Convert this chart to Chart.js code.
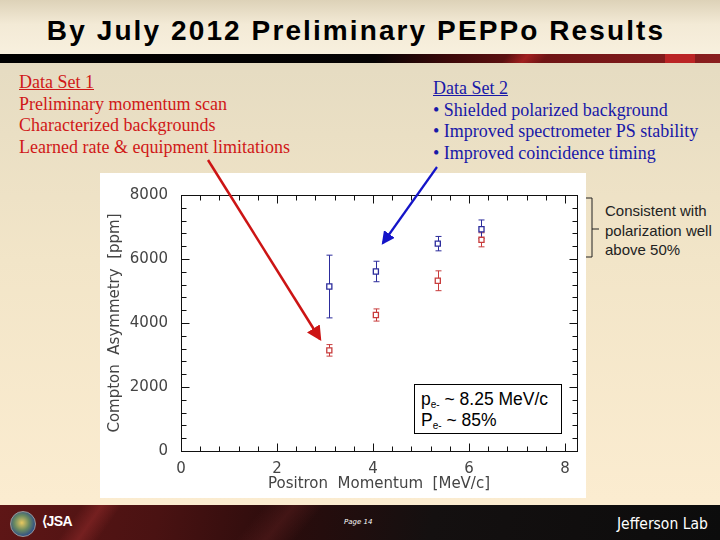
<!DOCTYPE html>
<html>
<head>
<meta charset="utf-8">
<script src="https://cdn.jsdelivr.net/npm/chart.js@4/dist/chart.umd.min.js"></script>
<style>
  html, body { margin:0; padding:0; }
  body { width:720px; height:540px; overflow:hidden; position:relative;
    background: linear-gradient(180deg, #d9cfb3 0px, #e6dcc2 70px, #f2e5c8 260px, #fbecd0 500px); }
  #titlebar { position:absolute; left:0; top:0; width:720px; height:54px;
    background: linear-gradient(180deg, #ddd2b8 0%, #f3ead6 45%, #f8f0de 100%); }
  #title { position:absolute; left:0; top:17px; width:712px; text-align:center; line-height:28px;
    font-family:"Liberation Sans", Arial, sans-serif; font-weight:bold; font-size:28px; color:#000; letter-spacing:2.1px; }
  #bar { position:absolute; left:0; top:54px; width:720px; height:9px;
    background: linear-gradient(90deg, #000 0%, #050303 52%, #3a0808 62%, #6e1414 75%, #8a1e1e 100%); }
  #bar2 { position:absolute; left:505px; top:54px; width:40px; height:9px;
    background: linear-gradient(90deg, rgba(200,40,40,0) 0%, rgba(200,40,40,0.6) 50%, rgba(200,40,40,0) 100%); transform:skewX(-40deg); }
  #bar3 { position:absolute; left:665px; top:54px; width:30px; height:9px; background:rgba(210,40,40,0.7); }
  .set1 { position:absolute; left:19px; top:72px; font-family:"Liberation Serif","Times New Roman",serif; font-size:18px; line-height:21.7px; color:#d01818; white-space:nowrap; }
  .set2 { position:absolute; left:433px; top:78px; font-family:"Liberation Serif","Times New Roman",serif; font-size:18px; line-height:21.7px; color:#1818a8; white-space:nowrap; }
  u { text-decoration-thickness:1px; }
  #chartbox { position:absolute; left:100px; top:173px; width:486px; height:325px; background:#fff; }
  #note { position:absolute; left:605px; top:201px; font-family:"Liberation Sans", Arial, sans-serif; font-size:15px; line-height:19.5px; color:#222; white-space:nowrap; }
  #infobox { position:absolute; left:414px; top:384px; width:148px; height:50px; border:1px solid #000; background:#fff;
    font-family:"Liberation Sans", Arial, sans-serif; font-size:17.5px; line-height:21px; color:#000; padding:4px 0 0 6px; box-sizing:border-box; white-space:nowrap; }
  #infobox sub { font-size:10px; vertical-align:-3px; line-height:0; }
  #footer { position:absolute; left:0; top:505px; width:720px; height:35px;
    background: linear-gradient(100deg, #5e1616 0%, #4a1212 22%, #2a0c0c 40%, #141010 60%, #0c0c0c 100%); }
  #streak { position:absolute; left:70px; top:505px; width:40px; height:35px; transform:skewX(-35deg);
    background: linear-gradient(90deg, rgba(140,40,40,0) 0%, rgba(140,40,40,0.6) 50%, rgba(140,40,40,0) 100%); }
  #streak2 { position:absolute; left:250px; top:505px; width:60px; height:35px; transform:skewX(-40deg);
    background: linear-gradient(90deg, rgba(90,30,30,0) 0%, rgba(90,30,30,0.5) 50%, rgba(90,30,30,0) 100%); }
  #logo1 { position:absolute; left:10px; top:511px; width:24px; height:24px; border-radius:50%;
    background: radial-gradient(circle at 45% 45%, #e8c860 0%, #6a8a60 40%, #2a4a8a 75%, #1a2a5a 100%); border:1px solid #999; }
  #jsa { position:absolute; left:42px; top:513px; font-family:"Liberation Sans", Arial, sans-serif; font-weight:bold; font-size:14px; color:#fff; letter-spacing:-0.5px; }
  #page { position:absolute; left:344px; top:518px; font-family:"DejaVu Sans", sans-serif; font-style:italic; font-size:7px; color:#fff; }
  #jlab { position:absolute; left:617px; top:515px; font-family:"DejaVu Sans Condensed","DejaVu Sans", sans-serif; font-size:15.5px; color:#fff; white-space:nowrap; }
  svg { position:absolute; left:0; top:0; }
</style>
</head>
<body>
<div id="titlebar"></div>
<div id="title">By July 2012 Preliminary PEPPo Results</div>
<div id="bar"></div><div id="bar2"></div><div id="bar3"></div>

<div class="set1"><u>Data Set 1</u><br>Preliminary momentum scan<br>Characterized backgrounds<br>Learned rate &amp; equipment limitations</div>
<div class="set2"><u>Data Set 2</u><br>• Shielded polarized background<br>• Improved spectrometer PS stability<br>• Improved coincidence timing</div>

<div id="chartbox"><canvas id="c"></canvas></div>
<div id="infobox">p<sub>e-</sub> ~ 8.25 MeV/c<br>P<sub>e-</sub> ~ 85%</div>

<div id="note">Consistent with<br>polarization well<br>above 50%</div>

<div id="footer"></div><div id="streak"></div><div id="streak2"></div>
<div id="logo1"></div>
<div id="jsa">⟨JSA</div>
<div id="page">Page 14</div>
<div id="jlab">Jefferson Lab</div>

<svg width="720" height="540" viewBox="0 0 720 540">
  <defs>
    <marker id="ahr" markerWidth="6" markerHeight="6" refX="5" refY="3" orient="auto" markerUnits="strokeWidth">
      <path d="M0,0 L6,3 L0,6 z" fill="#cc1414"/>
    </marker>
    <marker id="ahb" markerWidth="6" markerHeight="6" refX="5" refY="3" orient="auto" markerUnits="strokeWidth">
      <path d="M0,0 L6,3 L0,6 z" fill="#1414c8"/>
    </marker>
  </defs>
  <line x1="208" y1="160" x2="320" y2="339" stroke="#cc1414" stroke-width="2.5" marker-end="url(#ahr)"/>
  <line x1="437" y1="167" x2="383" y2="243" stroke="#1414c8" stroke-width="2.2" marker-end="url(#ahb)"/>
  <path d="M586,198 L592,198 L592,257 L586,257 M592,229 L599,229" stroke="#222" stroke-width="1" fill="none"/>
</svg>

<script>
// ---- data ----
const momentum = [3.09, 4.06, 5.35, 6.26];          // positron momentum [MeV/c]
const set1Asym = [3145, 4250, 5320, 6600];          // Data Set 1 (red) [ppm]
const set1Err  = [180, 190, 310, 220];
const set2Asym = [5140, 5610, 6480, 6930];          // Data Set 2 (blue) [ppm]
const set2Err  = [980, 320, 225, 290];
const xTickValues = [0, 2, 4, 6, 8];
const yTickValues = [0, 2000, 4000, 6000, 8000];

const RED = '#c83c3c', BLUE = '#2c2c9c';

function pts(xs, ys, es) { return xs.map((x, i) => ({x: x, y: ys[i], err: es[i]})); }

const errorBars = {
  id: 'errorBars',
  beforeDatasetsDraw(chart) {
    const {ctx, scales: {x, y}} = chart;
    ctx.save();
    chart.data.datasets.forEach(ds => {
      ctx.strokeStyle = ds.borderColor;
      ctx.lineWidth = 1;
      ds.data.forEach(p => {
        const px = Math.round(x.getPixelForValue(p.x)) + 0.5;
        const yt = y.getPixelForValue(p.y + p.err);
        const yb = y.getPixelForValue(p.y - p.err);
        ctx.beginPath();
        ctx.moveTo(px, yt); ctx.lineTo(px, yb);
        ctx.moveTo(px - 3, yt); ctx.lineTo(px + 3, yt);
        ctx.moveTo(px - 3, yb); ctx.lineTo(px + 3, yb);
        ctx.stroke();
      });
    });
    ctx.restore();
  }
};

const frameTicks = {
  id: 'frameTicks',
  afterDraw(chart) {
    const {ctx, chartArea: a, scales: {x, y}} = chart;
    ctx.save();
    ctx.strokeStyle = '#111';
    ctx.lineWidth = 1;
    const L = Math.round(a.left) + 0.5, R = Math.round(a.right) + 0.5, T = Math.round(a.top) + 0.5, B = Math.round(a.bottom) + 0.5;
    ctx.strokeRect(L, T, R - L, B - T);
    ctx.beginPath();
    for (let v = 0; v <= x.max + 1e-9; v += 0.4) {
      const major = xTickValues.some(t => Math.abs(t - v) < 1e-6);
      const len = major ? 8 : 5;
      const px = Math.round(x.getPixelForValue(v)) + 0.5;
      ctx.moveTo(px, B); ctx.lineTo(px, B - len);
      ctx.moveTo(px, T); ctx.lineTo(px, T + len);
    }
    for (let v = 0; v <= y.max + 1e-9; v += 400) {
      const major = yTickValues.some(t => Math.abs(t - v) < 1e-6);
      const len = major ? 8 : 5;
      const py = Math.round(y.getPixelForValue(v)) + 0.5;
      ctx.moveTo(L, py); ctx.lineTo(L + len, py);
      ctx.moveTo(R, py); ctx.lineTo(R - len, py);
    }
    ctx.stroke();
    ctx.restore();
  }
};

const tickFont = {family: '"DejaVu Sans", sans-serif', size: 15};

new Chart(document.getElementById('c'), {
  type: 'scatter',
  data: {
    datasets: [
      {label: 'Data Set 1', data: pts(momentum, set1Asym, set1Err), borderColor: RED, backgroundColor: '#fff',
       pointStyle: 'rect', pointRadius: 3.6, pointBorderWidth: 1.3, pointHoverRadius: 3.6},
      {label: 'Data Set 2', data: pts(momentum, set2Asym, set2Err), borderColor: BLUE, backgroundColor: '#fff',
       pointStyle: 'rect', pointRadius: 3.6, pointBorderWidth: 1.3, pointHoverRadius: 3.6}
    ]
  },
  options: {
    responsive: true, maintainAspectRatio: false, animation: false,
    layout: {padding: {top: 12, right: 9, left: 0, bottom: 0}},
    plugins: {legend: {display: false}, tooltip: {enabled: false}},
    scales: {
      x: {
        type: 'linear', min: 0, max: 8.25,
        afterBuildTicks: s => { s.ticks = xTickValues.map(v => ({value: v})); },
        afterFit: s => { s.height = 47; },
        grid: {display: false, drawTicks: false}, border: {display: false},
        ticks: {font: tickFont, color: '#444', padding: 9, maxRotation: 0, callback: v => String(v)},
        title: {display: true, text: 'Positron  Momentum  [MeV/c]', color: '#444',
                font: {family: '"DejaVu Sans", sans-serif', size: 15}, padding: {top: 0, bottom: 5}}
      },
      y: {
        type: 'linear', min: 0, max: 8000,
        afterBuildTicks: s => { s.ticks = yTickValues.map(v => ({value: v})); },
        afterFit: s => { s.width = 81; },
        grid: {display: false, drawTicks: false}, border: {display: false},
        ticks: {font: tickFont, color: '#444', padding: 13, callback: v => String(v)},
        title: {display: true, text: 'Compton  Asymmetry  [ppm]', color: '#444',
                font: {family: '"DejaVu Sans", sans-serif', size: 15}, padding: {top: 6, bottom: 0}}
      }
    }
  },
  plugins: [errorBars, frameTicks]
});
</script>
</body>
</html>
